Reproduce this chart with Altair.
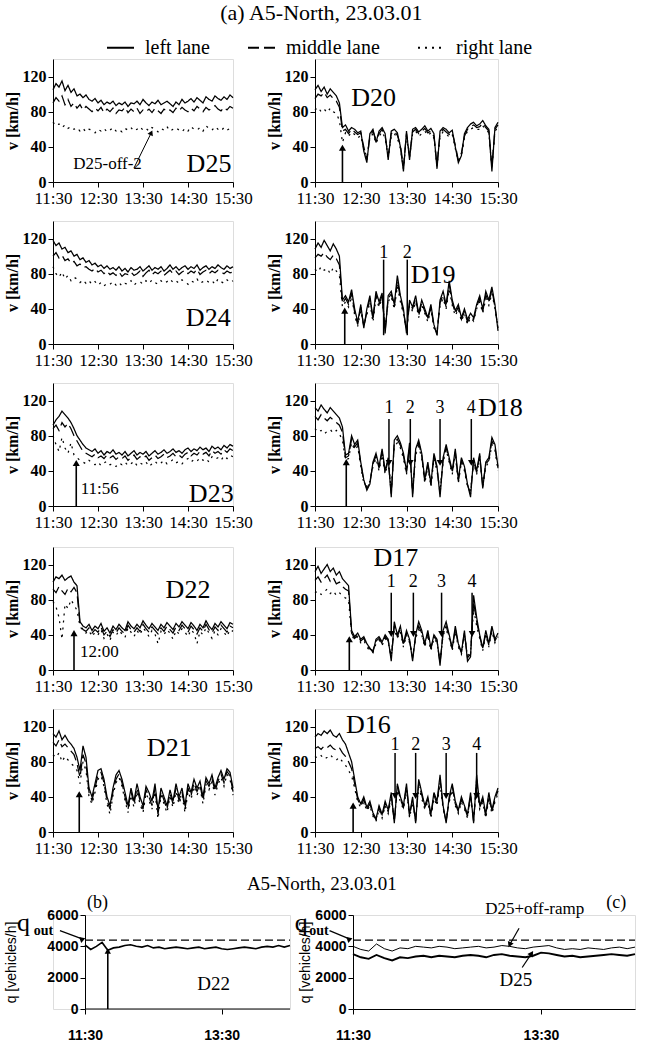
import json
import altair as alt
import pandas as pd

SERIF = "Liberation Serif"
SANS = "Liberation Sans"

# ---------------- time index (minutes after 11:30) ----------------
MIN = list(range(0, 241, 4))          # speed panels, 11:30 .. 15:30
QMIN = list(range(0, 181, 5))         # flow panels, 11:30 .. 14:30
LANES = ["left lane", "middle lane", "right lane"]
TIME_TICKS = [0, 60, 120, 180, 240]
TIME_LABELS = ["11:30", "12:30", "13:30", "14:30", "15:30"]
Q_TICKS = [0, 120]
Q_TICK_LABELS = ["11:30", "13:30"]
V_TICKS = [0, 40, 80, 120]
FLOW_TICKS = [0, 2000, 4000, 6000]

# ---------------- speeds [km/h] ----------------
D25_L = [105,112,108,115,104,110,102,106,98,100,96,99,94,92,95,90,93,88,91,89,92,87,90,88,91,86,90,89,92,88,94,90,87,91,89,93,88,90,92,89,86,91,88,94,90,92,95,91,96,93,90,97,94,92,98,95,93,97,94,99,96]
D25_M = [90,96,92,98,88,94,86,90,84,88,82,86,83,80,84,81,85,79,83,80,84,78,82,81,85,79,83,80,84,78,82,80,83,79,84,81,78,83,80,82,79,84,81,85,82,80,84,81,86,83,80,85,82,84,87,83,81,85,82,86,84]
D25_R = [68,64,66,62,65,61,63,60,62,58,61,57,60,59,56,60,58,61,57,59,62,58,60,57,61,59,62,58,60,63,59,61,58,62,60,57,61,59,63,58,60,62,59,57,61,58,63,60,59,62,58,64,61,59,63,60,58,62,59,61,60]

D20_L = [105,110,103,108,100,106,102,98,90,62,65,58,62,60,56,58,35,22,55,60,45,58,62,55,25,58,60,56,40,12,58,25,60,62,57,60,64,58,61,55,15,58,62,60,56,59,40,22,30,55,62,66,68,64,66,70,64,60,12,62,68]
D20_M = [95,100,98,102,96,99,95,92,85,58,60,55,60,57,54,56,40,25,52,58,48,55,60,52,30,55,58,53,42,18,55,30,57,60,55,58,61,56,58,52,20,55,60,57,54,56,42,25,33,52,60,63,65,62,63,67,62,58,18,60,65]
D20_R = [82,85,80,83,79,84,80,78,70,45,56,52,57,54,50,53,38,28,50,55,44,52,57,50,28,52,55,50,38,15,52,28,55,58,52,55,58,53,56,50,18,52,57,55,51,54,38,24,30,50,58,60,62,60,60,64,60,56,15,58,62]

D24_L = [118,112,115,108,110,104,106,100,102,96,98,93,95,90,92,88,90,86,89,85,87,84,88,83,86,82,87,84,85,88,83,86,89,84,87,85,88,83,86,90,85,88,84,87,89,85,88,86,90,84,87,89,85,88,86,90,87,85,89,86,88]
D24_M = [100,104,98,101,95,97,92,94,89,91,87,88,85,83,86,82,84,80,83,79,81,78,82,77,80,79,82,78,80,83,77,81,84,79,82,80,83,78,81,84,80,83,79,82,84,80,83,81,85,79,82,84,80,83,81,84,82,80,83,81,82]
D24_R = [88,80,76,82,74,78,72,76,74,70,73,69,72,68,71,67,70,66,69,68,71,67,70,66,69,68,72,67,70,71,68,72,69,73,70,68,72,69,71,74,70,72,69,73,71,68,72,70,74,69,71,73,70,72,68,74,71,69,73,70,72]

D19_L = [108,115,110,118,112,106,114,108,100,50,55,48,62,40,25,45,18,40,55,30,60,48,58,12,55,60,45,78,55,40,12,50,42,55,35,50,40,30,45,22,10,50,60,45,72,50,38,45,30,40,28,35,30,45,55,40,60,50,65,45,15]
D19_M = [98,102,100,104,99,96,101,97,90,46,52,45,58,36,22,42,20,36,52,28,56,45,55,15,52,57,42,72,52,37,15,47,40,52,32,47,37,28,42,20,12,47,56,42,68,47,35,42,28,37,25,32,28,42,52,37,56,47,62,42,18]
D19_R = [85,82,88,84,86,80,87,83,78,42,48,42,54,33,20,38,22,33,48,25,52,42,52,18,48,54,40,66,48,34,18,44,37,48,30,44,35,25,40,18,15,44,52,40,62,44,32,40,26,35,22,30,26,40,48,35,52,44,58,40,20]

D23_L = [92,98,102,108,104,100,95,88,80,75,70,66,64,62,65,60,63,58,62,60,64,59,61,58,62,57,60,63,58,61,59,62,57,60,63,59,61,64,60,62,65,61,63,60,64,66,62,65,63,67,64,66,62,68,65,67,64,69,66,70,68]
D23_M = [88,92,86,95,90,94,88,80,74,68,62,60,58,56,59,55,57,54,58,55,57,53,56,54,57,52,55,58,53,56,54,57,52,55,58,54,56,59,55,57,60,56,58,55,59,61,57,60,58,62,59,61,57,63,60,62,59,64,61,65,63]
D23_R = [80,70,62,78,66,60,72,58,55,52,50,48,52,49,47,50,46,49,51,47,48,45,49,47,50,46,48,51,46,49,47,50,45,48,51,47,49,52,48,50,53,49,51,48,52,54,50,53,51,55,52,54,50,56,53,55,52,57,54,58,56]

D18_L = [112,108,115,110,106,112,108,104,100,90,58,60,80,70,75,50,30,18,25,50,60,45,65,40,55,10,75,80,72,60,40,72,10,65,75,60,30,50,25,60,45,10,55,70,55,40,65,30,55,45,25,10,55,40,60,20,50,55,78,70,45]
D18_M = [102,98,104,100,97,101,98,95,92,84,55,57,76,67,72,48,28,20,27,48,57,43,62,38,52,14,72,76,69,57,38,69,14,62,72,57,28,48,24,57,43,14,52,67,52,38,62,28,52,43,24,14,52,38,57,22,48,52,74,67,43]
D18_R = [88,84,86,82,85,87,83,86,82,75,52,54,72,64,68,45,26,22,28,45,54,40,58,36,50,18,68,72,66,54,36,66,18,58,68,54,26,45,22,54,40,18,50,64,50,36,58,26,50,40,22,18,50,36,54,24,45,50,70,64,40]

D22_L = [100,106,104,108,102,105,107,100,96,55,50,48,52,45,50,47,53,44,48,42,50,46,52,48,45,55,50,47,52,48,56,51,47,53,49,45,52,48,54,50,46,53,49,55,51,47,54,50,45,52,48,56,50,46,53,49,55,51,47,54,52]
D22_M = [92,88,95,90,86,93,89,94,88,52,46,44,48,42,46,43,49,40,44,38,46,42,48,44,41,51,46,43,48,44,52,47,43,49,45,41,48,44,50,46,42,49,45,51,47,43,50,46,41,48,44,52,46,42,49,45,51,47,43,50,48]
D22_R = [78,72,60,35,75,70,80,74,68,50,44,42,45,38,43,40,46,36,41,34,43,39,45,41,37,48,43,38,45,40,48,44,38,45,41,30,44,40,46,42,35,45,41,47,43,38,46,42,30,44,40,48,42,36,45,40,47,43,38,46,44]

D17_L = [112,118,110,115,120,112,116,108,112,104,100,96,45,38,42,35,38,30,25,20,35,38,32,40,35,10,55,40,50,30,45,35,10,40,55,45,30,45,25,40,35,5,45,55,40,25,50,30,20,45,10,15,85,60,40,25,45,30,50,35,42]
D17_M = [102,106,100,104,108,101,105,98,100,95,92,90,42,36,40,33,36,28,24,22,33,36,30,38,33,14,50,38,47,28,42,33,14,38,50,42,28,42,24,38,33,8,42,50,38,24,47,28,20,42,14,18,78,55,38,24,42,28,47,33,40]
D17_R = [88,90,86,89,92,87,90,85,88,84,82,80,40,34,38,31,34,26,22,20,30,34,28,36,31,16,46,36,44,26,40,31,16,36,46,40,26,40,22,36,31,10,40,46,36,22,44,26,18,40,16,20,70,50,36,22,40,26,44,31,38]

D21_L = [112,108,115,105,110,104,100,95,85,70,98,85,50,40,55,70,72,60,40,30,50,65,70,60,45,30,50,35,55,40,30,52,45,35,55,25,50,40,30,48,35,55,40,50,30,55,45,60,50,58,40,62,55,65,50,62,70,60,72,68,50]
D21_M = [102,98,105,97,100,96,92,88,78,62,88,78,45,36,50,65,68,56,36,26,46,60,66,56,40,26,46,32,50,36,26,48,40,30,50,20,46,36,26,44,32,50,36,46,26,50,41,56,46,54,36,58,52,61,46,58,66,56,69,64,46]
D21_R = [88,85,90,80,86,82,78,75,70,55,80,70,40,32,45,60,64,52,32,20,42,56,62,52,36,22,42,28,46,32,22,44,36,26,46,15,42,32,22,40,28,46,32,42,22,46,37,52,42,50,32,54,48,57,42,54,62,52,66,60,42]

D16_L = [108,112,110,115,112,116,110,108,112,105,100,90,80,60,40,32,40,28,35,22,15,30,20,35,25,45,10,55,40,30,55,20,40,10,60,45,30,40,20,45,35,65,30,10,40,55,35,25,40,30,20,45,10,65,30,40,20,45,25,40,50]
D16_M = [95,97,94,98,96,99,95,93,96,90,86,80,72,55,37,30,37,26,32,20,14,28,18,32,23,42,12,52,37,28,52,18,37,12,56,42,28,37,18,42,32,60,28,12,37,52,32,23,37,28,18,42,12,60,28,37,18,42,23,37,47]
D16_R = [86,84,87,83,85,88,84,82,85,80,76,70,64,50,34,28,34,24,30,18,12,26,16,30,21,38,14,48,34,26,48,16,34,14,52,38,26,34,16,38,30,56,26,14,34,48,30,21,34,26,16,38,14,56,26,34,16,38,21,34,44]

# ---------------- flows [vehicles/h] ----------------
Q_D22 = [4100,3800,4000,4250,3750,3900,3950,4050,4100,4000,3950,4050,3900,3950,3850,3900,3950,3900,3850,3900,3950,3850,3900,3950,3850,3800,3850,3900,3950,3900,3850,3950,4000,3950,4050,3950,4050]
Q_D25_OFF = [4000,3800,3700,4150,3850,3700,3900,3850,4000,3950,3900,4000,3950,3850,3900,3950,4000,3900,3950,4050,4000,3900,3850,3950,4000,4050,3900,3800,3850,3800,3900,3850,3800,3900,3950,3850,3950]
Q_D25 = [3500,3300,3200,3450,3250,3100,3300,3250,3350,3400,3300,3400,3350,3300,3400,3450,3400,3300,3450,3500,3400,3350,3300,3400,3600,3550,3450,3350,3400,3300,3350,3400,3450,3500,3450,3400,3500]
Q_OUT = 4400

# ---------------- annotations (minutes after 11:30, value) ----------------
D25_LABEL = (208, 21)
D25_OFF_TEXT = ("D25-off-2", 27, 21)
D25_OFF_ARROW = (108, 16, 131, 56)
D20_LABEL, D20_ARROW = (77, 96), (36, 39)
D24_LABEL = (207, 30)
D19_LABEL, D19_ARROW = (155, 79), (39, 38)
D19_MARKS = [90, 121]
D23_LABEL, D23_ARROW = (211, 14), (31, 49)
D23_TIME = ("11:56", 37, 19)
D18_LABEL, D18_ARROW = (243, 111), (41, 50)
D18_MARKS = [97, 125, 164, 205]
D22_LABEL, D22_ARROW = (180, 91), (28, 42)
D22_TIME = ("12:00", 36, 20)
D17_LABEL, D17_ARROW = (106, 128), (45, 35)
D17_MARKS = [100, 129, 166, 206]
D21_LABEL, D21_ARROW = (155, 96), (35, 43)
D16_LABEL, D16_ARROW = (70, 122), (50, 30)
D16_MARKS = [105, 132, 172, 212]
MARK_NAMES = ["1", "2", "3", "4"]

W_L, W_R, H = 180, 183, 123
WB, WC, HQ = 205, 282, 94
B_SHIFT = 32                      # px between panel (b) frame and its y axis
B_PRE = B_SHIFT * 180 / WB        # minutes hidden left of 11:30 in panel (b)

DASHES = [[1, 0], [11, 5], [2, 5]]

LEGEND = alt.Legend(
    orient="none", legendX=53, legendY=-26, direction="horizontal", title=None,
    labelFont=SERIF, labelFontSize=20, labelColor="black", symbolType="stroke",
    symbolStrokeWidth=2, symbolSize=729, symbolStrokeColor="black",
    labelOffset=10, columnPadding=34, padding=0,
)


def time_axis(ticks, labels, font, size, weight, pad, domain=True):
    expr = json.dumps(labels) + "[indexof(" + json.dumps(ticks) + ", datum.value)]"
    return alt.Axis(values=ticks, labelExpr=expr, title=None, grid=False, domain=domain,
                    labelFont=font, labelFontSize=size, labelFontWeight=weight,
                    labelPadding=pad, labelFlush=False, labelOverlap=False,
                    tickSize=5, domainColor="black", tickColor="black", labelColor="black")


V_AXIS = alt.Axis(values=V_TICKS, title="v [km/h]", grid=False, labelFont=SERIF,
                  labelFontSize=16, labelFontWeight="bold", titleFont=SERIF,
                  titleFontSize=16, titleFontWeight="bold", titlePadding=2,
                  labelPadding=2, tickSize=5, domainColor="black",
                  tickColor="black", labelColor="black", titleColor="black")
T_AXIS = time_axis(TIME_TICKS, TIME_LABELS, SERIF, 17, "normal", 3)
XS = alt.Scale(domain=[0, 240], nice=False, zero=False)
YS = alt.Scale(domain=[0, 140], nice=False)
X = alt.X("t:Q", scale=XS, axis=T_AXIS)
Y = alt.Y("v:Q", scale=YS, axis=V_AXIS)


def speed_panel(L, M, R, name, label_pos, arrow, width, marks=None,
                mark_top=88, mark_tip=40, mark_lab=100, heads=True, texts=(), diag=None):
    frames = []
    for lane, vals in zip(LANES, (L, M, R)):
        frames.append(pd.DataFrame({"t": MIN[:len(vals)], "v": vals[:len(MIN)], "lane": lane}))
    df = pd.concat(frames, ignore_index=True)
    lines = alt.Chart(df).mark_line(color="black", strokeWidth=1.25).encode(
        x=X, y=Y,
        strokeDash=alt.StrokeDash("lane:N", scale=alt.Scale(domain=LANES, range=DASHES), legend=LEGEND),
    )
    layers = [lines]
    lab = pd.DataFrame({"t": [label_pos[0]], "v": [label_pos[1]], "s": [name]})
    layers.append(alt.Chart(lab).mark_text(font=SERIF, fontSize=26, color="black").encode(x=X, y=Y, text="s:N"))
    if arrow:
        at, tip = arrow
        adf = pd.DataFrame({"t": [at], "v": [0], "v2": [tip]})
        layers.append(alt.Chart(adf).mark_rule(color="black", strokeWidth=1.6).encode(x=X, y=Y, y2="v2:Q"))
        hdf = pd.DataFrame({"t": [at], "v": [tip]})
        layers.append(alt.Chart(hdf).mark_point(shape="triangle-up", filled=True, size=50, opacity=1,
                                                color="black").encode(x=X, y=Y))
    if diag:
        t1, v1, t2, v2, ang = diag
        oa = pd.DataFrame({"t": [t1], "v": [v1], "t2": [t2], "v2": [v2]})
        layers.append(alt.Chart(oa).mark_rule(color="black", strokeWidth=1).encode(x=X, x2="t2:Q", y=Y, y2="v2:Q"))
        oh = pd.DataFrame({"t": [t2], "v": [v2]})
        layers.append(alt.Chart(oh).mark_point(shape="triangle-up", filled=True, size=35, opacity=1,
                                               color="black", angle=ang).encode(x=X, y=Y))
    if marks:
        mdf = pd.DataFrame({"t": marks, "v": [mark_tip] * len(marks), "v2": [mark_top] * len(marks)})
        layers.append(alt.Chart(mdf).mark_rule(color="black", strokeWidth=1.5).encode(x=X, y=Y, y2="v2:Q"))
        if heads:
            layers.append(alt.Chart(mdf).mark_point(shape="triangle-down", filled=True, size=45, opacity=1,
                                                    color="black").encode(x=X, y=Y))
        ndf = pd.DataFrame({"t": marks, "v": [mark_lab] * len(marks), "s": MARK_NAMES[:len(marks)]})
        layers.append(alt.Chart(ndf).mark_text(font=SERIF, fontSize=18, color="black").encode(x=X, y=Y, text="s:N"))
    for txt, tt, tv, fs in texts:
        tdf = pd.DataFrame({"t": [tt], "v": [tv], "s": [txt]})
        layers.append(alt.Chart(tdf).mark_text(font=SERIF, fontSize=fs, align="left", color="black")
                      .encode(x=X, y=Y, text="s:N"))
    return alt.layer(*layers).properties(width=width, height=H)


p25 = speed_panel(D25_L, D25_M, D25_R, "D25", D25_LABEL, None, W_L,
                  texts=[(D25_OFF_TEXT[0], D25_OFF_TEXT[1], D25_OFF_TEXT[2], 17)],
                  diag=(*D25_OFF_ARROW, 25))
p20 = speed_panel(D20_L, D20_M, D20_R, "D20", D20_LABEL, D20_ARROW, W_R)
p24 = speed_panel(D24_L, D24_M, D24_R, "D24", D24_LABEL, None, W_L)
p19 = speed_panel(D19_L, D19_M, D19_R, "D19", D19_LABEL, D19_ARROW, W_R, marks=D19_MARKS,
                  mark_top=96, mark_tip=10, mark_lab=104, heads=False)
p23 = speed_panel(D23_L, D23_M, D23_R, "D23", D23_LABEL, D23_ARROW, W_L,
                  texts=[(D23_TIME[0], D23_TIME[1], D23_TIME[2], 17)])
p18 = speed_panel(D18_L, D18_M, D18_R, "D18", D18_LABEL, D18_ARROW, W_R, marks=D18_MARKS,
                  mark_top=99, mark_tip=49, mark_lab=111)
p22 = speed_panel(D22_L, D22_M, D22_R, "D22", D22_LABEL, D22_ARROW, W_L,
                  texts=[(D22_TIME[0], D22_TIME[1], D22_TIME[2], 17)])
p17 = speed_panel(D17_L, D17_M, D17_R, "D17", D17_LABEL, D17_ARROW, W_R, marks=D17_MARKS,
                  mark_top=88, mark_tip=41, mark_lab=100)
p21 = speed_panel(D21_L, D21_M, D21_R, "D21", D21_LABEL, D21_ARROW, W_L)
p16 = speed_panel(D16_L, D16_M, D16_R, "D16", D16_LABEL, D16_ARROW, W_R, marks=D16_MARKS,
                  mark_top=90, mark_tip=41, mark_lab=99)

top = alt.concat(p25, p20, p24, p19, p23, p18, p22, p17, p21, p16, columns=2,
                 spacing={"row": 13, "column": 12})


# ---------------- flow panels ----------------
def q_axis(title_pad, offset=0):
    return alt.Axis(values=FLOW_TICKS, format="d", title="q [vehicles/h]", grid=False, labelFont=SANS,
                    labelFontSize=14, labelFontWeight="bold", titleFont=SANS, titleFontSize=14,
                    titleFontWeight="normal", titlePadding=title_pad, labelPadding=2, tickSize=5,
                    offset=offset, domainColor="black", tickColor="black", labelColor="black",
                    titleColor="black")


def flow_panel(series, width, pre, y_axis, extra_texts, arrow_rules, heads, qpos):
    xs = alt.Scale(domain=[-pre, 180], nice=False, zero=False)
    ys = alt.Scale(domain=[0, 6000], nice=False)
    QX = alt.X("t:Q", scale=xs, axis=time_axis(Q_TICKS, Q_TICK_LABELS, SANS, 14, "bold", 14, domain=(pre == 0)))
    QY = alt.Y("v:Q", scale=ys, axis=y_axis)
    layers = []
    rdf = pd.DataFrame({"t": [0], "t2": [180], "v": [Q_OUT]})
    layers.append(alt.Chart(rdf).mark_rule(color="black", strokeWidth=1.3, strokeDash=[8, 4])
                  .encode(x=QX, x2="t2:Q", y=QY))
    if pre:
        bdf = pd.DataFrame({"t": [0], "t2": [180], "v": [0]})
        layers.append(alt.Chart(bdf).mark_rule(color="black", strokeWidth=1).encode(x=QX, x2="t2:Q", y=QY))
    for vals, sw in series:
        df = pd.DataFrame({"t": QMIN[:len(vals)], "v": vals[:len(QMIN)]})
        layers.append(alt.Chart(df).mark_line(color="black", strokeWidth=sw).encode(x=QX, y=QY))
    for txt, tt, tv, size in extra_texts:
        tdf = pd.DataFrame({"t": [tt], "v": [tv], "s": [txt]})
        layers.append(alt.Chart(tdf).mark_text(font=SERIF, fontSize=size, color="black").encode(x=QX, y=QY, text="s:N"))
    for t1, v1, t2, v2, sw in arrow_rules:
        adf = pd.DataFrame({"t": [t1], "v": [v1], "t2": [t2], "v2": [v2]})
        layers.append(alt.Chart(adf).mark_rule(color="black", strokeWidth=sw).encode(x=QX, y=QY, x2="t2:Q", y2="v2:Q"))
    for tt, tv, ang, shape in heads:
        hdf = pd.DataFrame({"t": [tt], "v": [tv]})
        layers.append(alt.Chart(hdf).mark_point(shape=shape, filled=True, size=40, opacity=1, color="black",
                                                angle=ang).encode(x=QX, y=QY))
    qt, qv, ot, ov = qpos
    layers.append(alt.Chart(pd.DataFrame({"t": [qt], "v": [qv], "s": ["q"]})).mark_text(
        font=SERIF, fontSize=26, color="black").encode(x=QX, y=QY, text="s:N"))
    layers.append(alt.Chart(pd.DataFrame({"t": [ot], "v": [ov], "s": ["out"]})).mark_text(
        font=SERIF, fontSize=14, fontWeight="bold", color="black", align="left").encode(x=QX, y=QY, text="s:N"))
    return alt.layer(*layers).properties(width=width, height=HQ)


pb = flow_panel(
    [(Q_D22, 1.6)], WB + B_SHIFT, B_PRE, q_axis(28, -B_SHIFT),
    [("(b)", 11, 6750, 18), ("D22", 113, 1600, 19)],
    [(20, 0, 20, 3700, 1.6), (-22, 5000, -2, 4460, 1.2)],
    [(20, 3700, 0, "triangle-up"), (-2, 4460, 70, "triangle-up")],
    (-54, 5500, -45, 5000),
)
pc = flow_panel(
    [(Q_D25_OFF, 1.0), (Q_D25, 1.9)], WC, 0, q_axis(2),
    [("(c)", 168, 6750, 18), ("D25+off-ramp", 116, 6380, 17), ("D25", 104, 1850, 19)],
    [(106, 5150, 100, 4100, 1.2), (108, 2650, 114, 3550, 1.2), (-15, 5000, -2, 4460, 1.2)],
    [(100, 4100, 24, "triangle-down"), (114, 3550, 34, "triangle-up"), (-2, 4460, 70, "triangle-up")],
    (-33, 5500, -28, 5000),
)

bottom = alt.hconcat(pb, pc, spacing=0, title=alt.Title(
    "A5-North, 23.03.01", font=SERIF, fontSize=19, fontWeight="normal", anchor="middle",
    color="black", offset=0))

chart = alt.concat(top, bottom, columns=1, align="none", spacing=17, title=alt.Title(
    "(a) A5-North, 23.03.01", font=SERIF, fontSize=22, fontWeight="normal", anchor="middle",
    color="black", offset=8)).properties(padding={"left": 3, "top": 2, "right": 3, "bottom": 0}
).configure_view(stroke=None).configure(background="white")

chart.save("out.html", embed_options={"renderer": "svg", "actions": False})
